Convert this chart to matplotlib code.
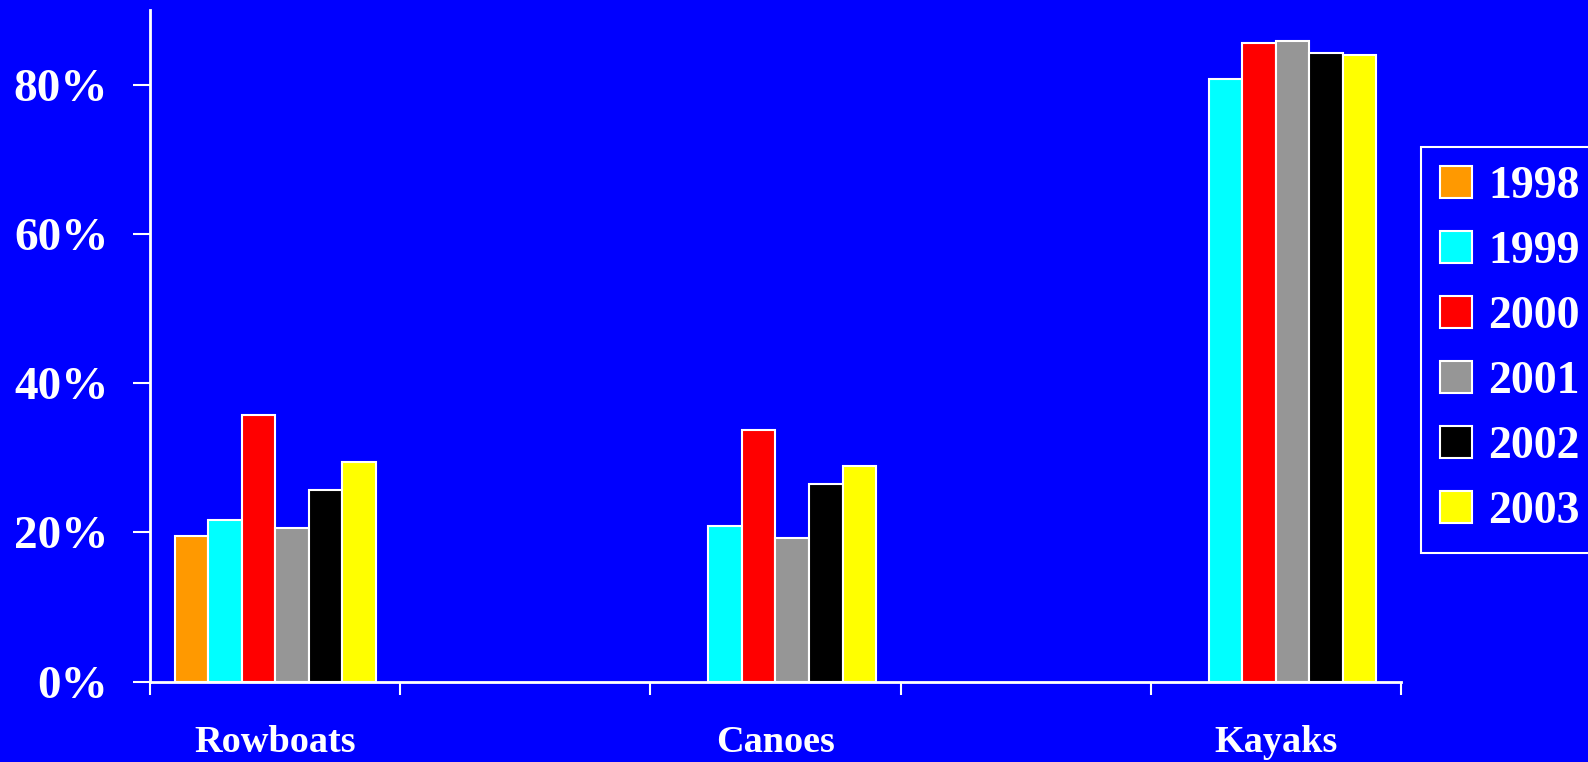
import numpy as np
import matplotlib.pyplot as plt

categories = ['Rowboats', 'Canoes', 'Kayaks']
years = ['1998', '1999', '2000', '2001', '2002', '2003']
colors = ['#FF9900', '#00FFFF', '#FF0000', '#969696', '#000000', '#FFFF00']

# percent values per year, one per category (nan = no bar)
v1998 = [19.5, np.nan, np.nan]
v1999 = [21.6, 20.8, 80.8]
v2000 = [35.8, 33.7, 85.6]
v2001 = [20.6, 19.3, 85.9]
v2002 = [25.7, 26.5, 84.3]
v2003 = [29.4, 28.9, 84.0]
series = [v1998, v1999, v2000, v2001, v2002, v2003]

blue = '#0000FF'
plt.rcParams['font.family'] = ['Liberation Serif', 'DejaVu Serif']
plt.rcParams['font.weight'] = 'bold'

fig = plt.figure(figsize=(15.88, 7.62), dpi=100, facecolor=blue)
ax = fig.add_axes([150 / 1588, 1 - 681.7 / 762, (1401 - 150) / 1588, (681.7 - 10) / 762])
ax.set_facecolor(blue)

# categories sit in every other slot of a 5-slot axis
slots = np.arange(len(categories)) * 2 + 0.5
width = 0.134
n = len(series)
for k, (vals, col, yr) in enumerate(zip(series, colors, years)):
    offs = (k - (n - 1) / 2) * width
    ax.bar(slots + offs, vals, width=width, color=col, edgecolor='white',
           linewidth=1.5, label=yr, zorder=3)

ax.set_xlim(0, 5)
ax.set_ylim(0, 90)
ax.set_yticks([0, 20, 40, 60, 80])
ax.set_yticklabels(['0%', '20%', '40%', '60%', '80%'])
ax.set_xticks(np.arange(6))
ax.set_xticklabels([])
ax.set_xticks(slots, minor=True)
ax.set_xticklabels(categories, minor=True)

for s in ['top', 'right']:
    ax.spines[s].set_visible(False)
for s in ['left', 'bottom']:
    ax.spines[s].set_color('white')
    ax.spines[s].set_linewidth(2)

ax.tick_params(axis='y', colors='white', length=12, width=1.5, pad=18, labelsize=34)
ax.tick_params(axis='x', which='major', colors='white', length=9.5, width=1.5)
ax.tick_params(axis='x', which='minor', colors='white', length=0, pad=31, labelsize=27.5)

leg = fig.legend(loc='upper left', bbox_to_anchor=(1421 / 1588, 1 - 147 / 762),
                 frameon=True, fancybox=False, facecolor=blue, edgecolor='white',
                 framealpha=1, fontsize=33, handlelength=0.7, handleheight=0.7,
                 handletextpad=0.35, labelspacing=0.5, borderpad=0.42,
                 borderaxespad=0)
leg.get_frame().set_linewidth(1.5)
for t in leg.get_texts():
    t.set_color('white')

fig.savefig('out.png', dpi=100, facecolor=blue)
